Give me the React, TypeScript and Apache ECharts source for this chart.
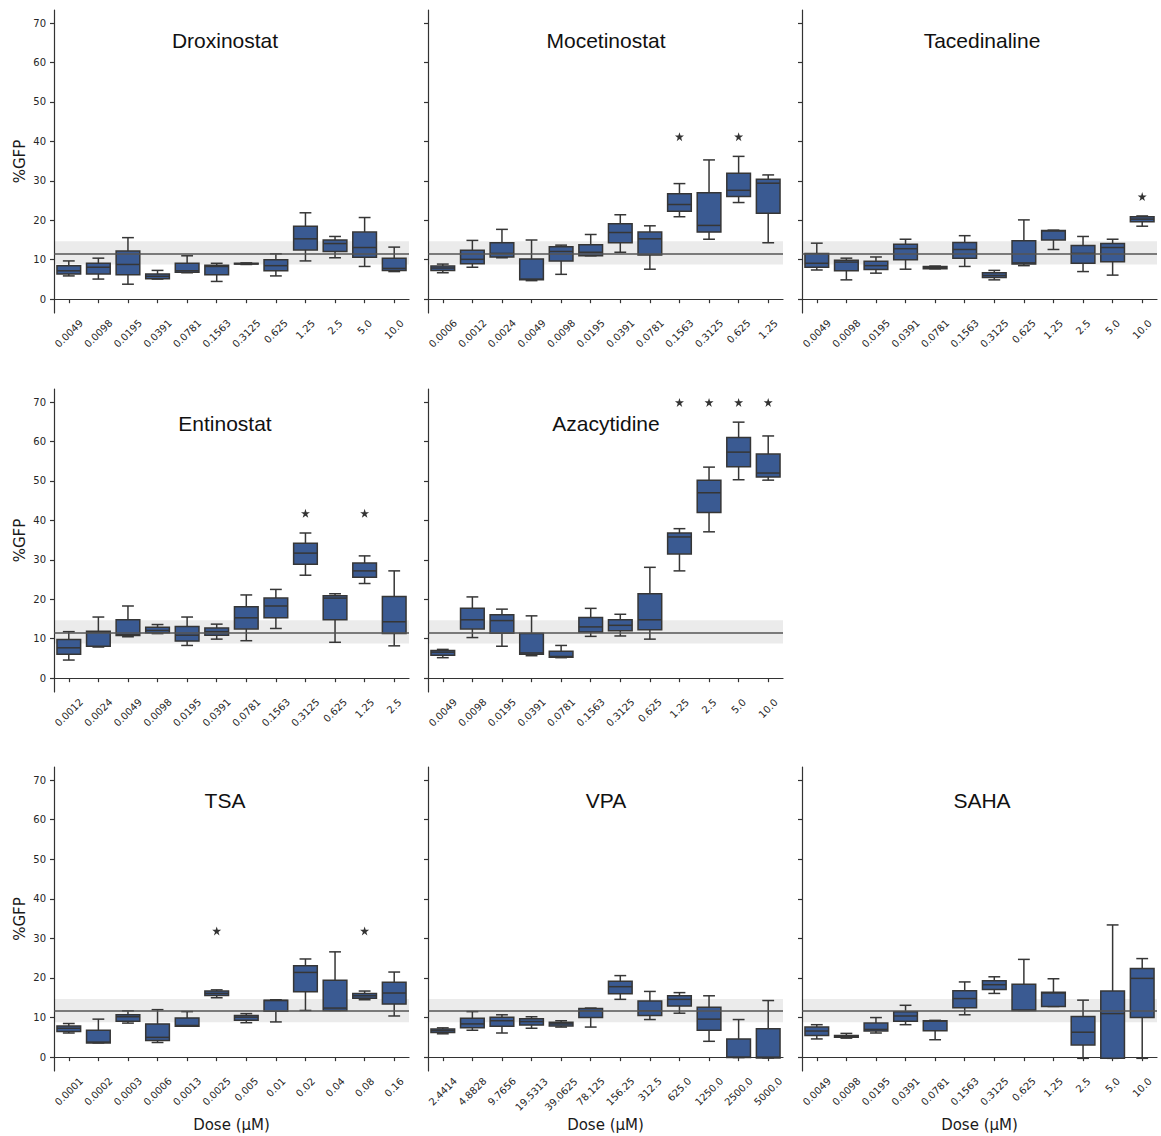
import React, { useEffect, useRef } from 'react';
import * as echarts from 'echarts';

// ---------- categories (doses, µM) ----------
const doses12 = ['0.0049', '0.0098', '0.0195', '0.0391', '0.0781', '0.1563', '0.3125', '0.625', '1.25', '2.5', '5.0', '10.0'];
const mocetinostatDoses = ['0.0006', '0.0012', '0.0024', '0.0049', '0.0098', '0.0195', '0.0391', '0.0781', '0.1563', '0.3125', '0.625', '1.25'];
const entinostatDoses = ['0.0012', '0.0024', '0.0049', '0.0098', '0.0195', '0.0391', '0.0781', '0.1563', '0.3125', '0.625', '1.25', '2.5'];
const tsaDoses = ['0.0001', '0.0002', '0.0003', '0.0006', '0.0013', '0.0025', '0.005', '0.01', '0.02', '0.04', '0.08', '0.16'];
const vpaDoses = ['2.4414', '4.8828', '9.7656', '19.5313', '39.0625', '78.125', '156.25', '312.5', '625.0', '1250.0', '2500.0', '5000.0'];

// ---------- box statistics [min, q1, median, q3, max] (%GFP) ----------
const droxinostatStats = [
  [5.9, 6.4, 7.2, 8.5, 9.7], [5.1, 6.4, 8.1, 9.1, 10.4], [3.8, 6.2, 8.8, 12.2, 15.6], [5.1, 5.2, 5.8, 6.4, 7.3],
  [6.7, 6.8, 7.2, 9.1, 11.0], [4.5, 6.2, 8.3, 8.6, 9.1], [8.8, 8.9, 9.0, 9.1, 9.2], [5.9, 7.2, 8.5, 10.0, 11.5],
  [9.7, 12.5, 15.3, 18.5, 21.9], [10.5, 12.1, 14.1, 15.0, 15.9], [8.3, 10.6, 13.1, 17.0, 20.7], [7.0, 7.3, 7.8, 10.4, 13.2],
];
const mocetinostatStats = [
  [6.7, 7.3, 7.9, 8.4, 8.9], [8.1, 9.0, 10.1, 12.4, 14.9], [10.5, 10.7, 11.6, 14.3, 17.7], [4.7, 4.9, 5.1, 10.2, 15.0],
  [6.3, 9.7, 12.1, 13.3, 13.7], [11.0, 11.0, 11.9, 13.8, 16.4], [11.9, 14.3, 16.9, 19.1, 21.4], [7.6, 11.2, 15.3, 17.0, 18.6],
  [20.9, 22.3, 24.0, 26.7, 29.3], [15.2, 17.0, 18.7, 27.0, 35.3], [24.5, 26.0, 27.6, 31.9, 36.2], [14.3, 21.8, 29.4, 30.4, 31.5],
];
const tacedinalineStats = [
  [7.4, 8.1, 9.1, 11.6, 14.2], [4.9, 7.2, 9.4, 9.9, 10.4], [6.6, 7.5, 8.5, 9.6, 10.7], [7.6, 10.0, 12.8, 13.9, 15.2],
  [7.7, 7.7, 8.0, 8.3, 8.4], [8.3, 10.4, 12.6, 14.4, 16.1], [4.9, 5.5, 6.0, 6.7, 7.3], [8.5, 8.9, 9.2, 14.8, 20.1],
  [12.6, 15.0, 17.3, 17.4, 17.5], [7.0, 9.1, 11.6, 13.6, 15.9], [6.1, 9.5, 13.1, 14.1, 15.2], [18.5, 19.6, 20.3, 20.9, 21.1],
];
const entinostatStats = [
  [4.6, 6.1, 7.7, 9.8, 11.8], [7.9, 8.1, 11.6, 11.9, 15.5], [10.5, 10.8, 11.0, 14.8, 18.3], [11.3, 11.5, 12.1, 12.9, 13.6],
  [8.3, 9.4, 10.9, 13.1, 15.5], [9.9, 10.9, 11.8, 12.7, 13.7], [9.5, 12.5, 15.3, 18.1, 21.1], [12.6, 15.3, 18.3, 20.3, 22.5],
  [26.1, 28.9, 31.7, 34.2, 36.8], [9.1, 14.8, 20.3, 20.9, 21.4], [24.0, 25.6, 27.2, 29.2, 31.0], [8.2, 11.3, 14.3, 20.7, 27.2],
];
const azacytidineStats = [
  [5.2, 5.8, 6.6, 7.0, 7.3], [10.3, 12.5, 14.8, 17.7, 20.6], [8.1, 11.4, 14.6, 16.1, 17.5], [5.7, 6.1, 6.4, 11.3, 15.8],
  [5.2, 5.3, 5.5, 6.8, 8.3], [10.6, 11.7, 13.0, 15.4, 17.7], [10.7, 12.0, 13.4, 14.8, 16.2], [9.9, 12.3, 14.8, 21.4, 28.1],
  [27.2, 31.5, 35.8, 36.8, 37.9], [37.1, 42.0, 47.0, 50.2, 53.5], [50.3, 53.6, 57.3, 61.0, 64.9], [50.2, 51.0, 52.0, 56.8, 61.4],
];
const tsaStats = [
  [6.1, 6.5, 7.3, 7.9, 8.5], [3.6, 3.6, 3.8, 6.8, 9.6], [8.6, 9.1, 10.2, 10.7, 11.7], [3.7, 4.2, 5.0, 8.4, 12.0],
  [7.8, 7.8, 8.0, 9.9, 11.5], [15.0, 15.6, 16.1, 16.7, 17.0], [8.7, 9.3, 10.1, 10.5, 11.0], [8.9, 11.6, 14.3, 14.4, 14.5],
  [11.8, 16.5, 21.4, 23.1, 24.8], [11.8, 11.8, 12.4, 19.4, 26.6], [14.5, 14.9, 15.5, 16.1, 16.7], [10.4, 13.4, 16.2, 18.9, 21.5],
];
const vpaStats = [
  [5.9, 6.2, 6.7, 7.1, 7.4], [6.8, 7.4, 8.4, 9.8, 11.5], [6.1, 7.8, 9.2, 10.1, 10.7], [7.3, 8.1, 9.0, 9.7, 10.2],
  [7.6, 7.9, 8.4, 8.8, 9.2], [7.6, 10.0, 11.7, 12.3, 12.4], [14.6, 16.0, 17.8, 19.2, 20.6], [9.5, 10.5, 11.7, 14.2, 16.6],
  [11.1, 12.9, 14.6, 15.5, 16.3], [4.0, 6.8, 9.6, 12.6, 15.5], [-0.1, -0.1, 0.0, 4.6, 9.5], [-0.2, -0.2, 0.0, 7.2, 14.3],
];
const sahaStats = [
  [4.6, 5.5, 6.6, 7.6, 8.2], [4.8, 5.0, 5.2, 5.5, 6.0], [6.1, 6.6, 7.0, 8.6, 10.0], [8.2, 9.1, 10.4, 11.5, 13.1],
  [4.4, 6.7, 9.1, 9.2, 9.3], [10.7, 12.5, 14.8, 16.8, 19.0], [16.1, 17.1, 18.3, 19.3, 20.3], [11.8, 11.8, 11.9, 18.4, 24.7],
  [12.8, 12.8, 16.2, 16.4, 19.8], [-0.3, 3.1, 6.3, 10.3, 14.4], [-0.3, -0.3, 11.0, 16.7, 33.4], [-0.3, 10.0, 19.9, 22.4, 24.9],
];

// ---------- significance stars [dose, y] ----------
const mocetinostatStars = [['0.1563', 41.2], ['0.625', 41.2]];
const tacedinalineStars = [['10.0', 26.0]];
const entinostatStars = [['0.3125', 41.8], ['1.25', 41.8]];
const azacytidineStars = [['1.25', 69.9], ['2.5', 69.9], ['5.0', 69.9], ['10.0', 69.9]];
const tsaStars = [['0.0025', 31.9], ['0.08', 31.9]];

// ---------- control reference ----------
const controlMean = 11.6;
const controlLow = 8.8;
const controlHigh = 14.7;
const yTicks = [0, 10, 20, 30, 40, 50, 60, 70];

const panels = [
  { title: 'Droxinostat', doses: doses12, stats: droxinostatStats, stars: [] as any[] },
  { title: 'Mocetinostat', doses: mocetinostatDoses, stats: mocetinostatStats, stars: mocetinostatStars },
  { title: 'Tacedinaline', doses: doses12, stats: tacedinalineStats, stars: tacedinalineStars },
  { title: 'Entinostat', doses: entinostatDoses, stats: entinostatStats, stars: entinostatStars },
  { title: 'Azacytidine', doses: doses12, stats: azacytidineStats, stars: azacytidineStars },
  { title: 'TSA', doses: tsaDoses, stats: tsaStats, stars: tsaStars },
  { title: 'VPA', doses: vpaDoses, stats: vpaStats, stars: [] as any[] },
  { title: 'SAHA', doses: doses12, stats: sahaStats, stars: [] as any[] },
];

// layout
const slots = [[0, 0], [0, 1], [0, 2], [1, 0], [1, 1], [2, 0], [2, 1], [2, 2]];
const colLeft = [54, 428, 802];
const colWidth = 355;
const rowTop = [10, 389, 767];
const rowHeight = [303, 303, 304];
const titleX = [225, 606, 982];
const titleY = [40, 423, 800];

const BOX_FILL = '#3a5a92';
const EDGE = '#363636';
const AXIS = '#333333';
const TICK_TXT = '#262626';
const STAR = 'path://M50 0 L61.17 34.63 L97.55 34.55 L68.07 55.87 L79.39 90.45 L50 69 L20.61 90.45 L31.93 55.87 L2.45 34.55 L38.83 34.63 Z';

const renderBox = (params: any, api: any) => {
  const idx = api.value(0);
  const mn = api.value(1), q1 = api.value(2), md = api.value(3), q3 = api.value(4), mx = api.value(5);
  const pMin = api.coord([idx, mn]);
  const pQ1 = api.coord([idx, q1]);
  const pMd = api.coord([idx, md]);
  const pQ3 = api.coord([idx, q3]);
  const pMax = api.coord([idx, mx]);
  const band = api.size([1, 0])[0];
  const bw = band * 0.8;
  const cx = pMin[0];
  const ls = { stroke: EDGE, lineWidth: 1.5, fill: null };
  return {
    type: 'group',
    children: [
      { type: 'line', shape: { x1: cx, y1: pMax[1], x2: cx, y2: pQ3[1] }, style: ls },
      { type: 'line', shape: { x1: cx, y1: pQ1[1], x2: cx, y2: pMin[1] }, style: ls },
      { type: 'line', shape: { x1: cx - bw / 4, y1: pMax[1], x2: cx + bw / 4, y2: pMax[1] }, style: ls },
      { type: 'line', shape: { x1: cx - bw / 4, y1: pMin[1], x2: cx + bw / 4, y2: pMin[1] }, style: ls },
      {
        type: 'rect',
        shape: { x: cx - bw / 2, y: pQ3[1], width: bw, height: Math.max(pQ1[1] - pQ3[1], 0.5) },
        style: { fill: BOX_FILL, stroke: EDGE, lineWidth: 1.5 },
      },
      { type: 'line', shape: { x1: cx - bw / 2, y1: pMd[1], x2: cx + bw / 2, y2: pMd[1] }, style: ls },
    ],
  };
};

export default function App() {
  const ref = useRef<HTMLDivElement>(null);
  useEffect(() => {
    if (!ref.current) return;
    const chart = echarts.init(ref.current, null, { renderer: 'svg' });
    const canvas = document.createElement('canvas');
    const ctx = canvas.getContext('2d') as CanvasRenderingContext2D;
    const tickFont = '10px "DejaVu Sans"';
    ctx.font = tickFont;

    const grids: any[] = [];
    const xAxes: any[] = [];
    const yAxes: any[] = [];
    const series: any[] = [];
    const graphics: any[] = [];

    panels.forEach((p, k) => {
      const [r, c] = slots[k];
      grids.push({
        left: colLeft[c], top: rowTop[r], width: colWidth, height: rowHeight[r],
        containLabel: false, outerBoundsMode: 'none',
      });
      const rich: any = {};
      p.doses.forEach((d, i) => {
        const L = ctx.measureText(d).width;
        const P = Math.round(0.5 * (L + 10));
        rich['r' + i] = { fontSize: 10, fontFamily: 'DejaVu Sans', color: TICK_TXT, padding: [P, P, 0, 0] };
      });
      xAxes.push({
        type: 'category', gridIndex: k, data: p.doses, boundaryGap: true,
        axisLine: { show: true, lineStyle: { color: AXIS, width: 1.2 } },
        axisTick: { show: true, alignWithLabel: true, length: 4, lineStyle: { color: AXIS, width: 1.2 } },
        axisLabel: {
          show: true, interval: 0, rotate: 45, align: 'center', verticalAlign: 'middle', margin: 5,
          formatter: (v: string, i: number) => `{r${i}|${v}}`, rich,
        },
        splitLine: { show: false },
        name: r === 2 ? 'Dose (µM)' : '', nameLocation: 'middle', nameGap: 46,
        nameTextStyle: { fontSize: 15, fontFamily: 'DejaVu Sans', color: '#1a1a1a' },
      });
      yAxes.push({
        type: 'value', gridIndex: k, min: -3.5, max: 73.3,
        axisLine: { show: true, lineStyle: { color: AXIS, width: 1.2 } },
        axisTick: { show: true, length: 4, customValues: yTicks, lineStyle: { color: AXIS, width: 1.2 } },
        axisLabel: {
          show: c === 0, customValues: yTicks, margin: 8, fontSize: 10,
          fontFamily: 'DejaVu Sans', color: TICK_TXT,
        },
        splitLine: { show: false },
        name: c === 0 ? '%GFP' : '', nameLocation: 'middle', nameGap: 27,
        nameTextStyle: { fontSize: 15, fontFamily: 'DejaVu Sans', color: '#1a1a1a' },
      });
      series.push({
        type: 'custom', xAxisIndex: k, yAxisIndex: k, silent: true,
        data: p.stats.map((s, i) => [i, ...s]),
        encode: { x: 0, y: [1, 2, 3, 4, 5] },
        renderItem: renderBox,
        markArea: {
          silent: true,
          itemStyle: { color: 'rgba(0,0,0,0.08)' },
          data: [[{ yAxis: controlLow }, { yAxis: controlHigh }]],
        },
        markLine: {
          silent: true, symbol: 'none', label: { show: false },
          lineStyle: { color: '#555555', width: 1.5, type: 'solid' },
          data: [{ yAxis: controlMean }],
        },
      });
      if (p.stars.length) {
        series.push({
          type: 'scatter', xAxisIndex: k, yAxisIndex: k, silent: true,
          data: p.stars.map(([d, y]: any) => [p.doses.indexOf(d), y]),
          symbol: STAR, symbolSize: 9, itemStyle: { color: '#000000' },
        });
      }
      graphics.push({
        type: 'text', x: titleX[c], y: titleY[r], silent: true,
        style: {
          text: p.title, fill: '#111111', fontSize: 21, fontFamily: 'Liberation Sans',
          align: 'center', verticalAlign: 'middle',
        },
      });
    });

    chart.setOption({
      animation: false,
      backgroundColor: '#ffffff',
      grid: grids,
      xAxis: xAxes,
      yAxis: yAxes,
      series,
      graphic: graphics,
    });
    return () => chart.dispose();
  }, []);
  return (
    <div
      ref={ref}
      style={{ position: 'absolute', left: 0, top: 0, width: 1161, height: 1136, background: '#fff' }}
    />
  );
}
